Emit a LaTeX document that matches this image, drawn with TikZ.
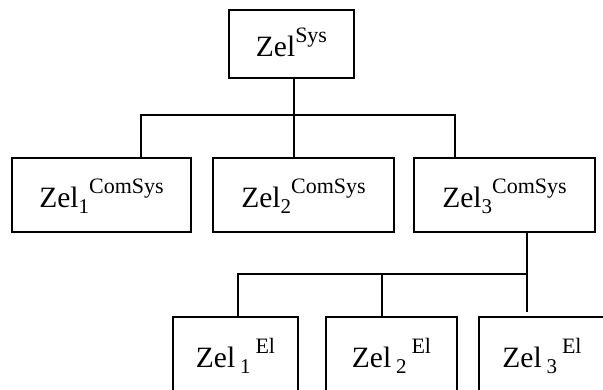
\documentclass[tikz,border=0pt]{standalone}
\usepackage{fontspec}
\setmainfont{Liberation Serif}
\usetikzlibrary{calc}

% raised / lowered indices in a smaller size
\newcommand\zsup[1]{\raisebox{14pt}{\fontsize{22}{22}\selectfont #1}}
\newcommand\zsub[1]{\raisebox{-6pt}{\fontsize{21}{21}\selectfont #1}}

\begin{document}
\begin{tikzpicture}[x=1pt,y=-1pt,
  goalbox/.style={draw, line width=1.6pt, rectangle, inner sep=0pt,
    minimum height=74pt, text height=26pt, text depth=0pt,
    font=\fontsize{29.5}{29.5}\selectfont},
  link/.style={line width=1.6pt}]
\useasboundingbox (0,0) rectangle (603,390);
\clip (0,0) rectangle (603,390);

% system level
\node[goalbox, minimum width=125pt, minimum height=68pt] (top) at (291.5,44) {Zel\zsup{Sys}};

% subsystem level
\node[goalbox, minimum width=179pt] (m1) at (101.5,195) {Zel\zsub{1}\zsup{ComSys}};
\node[goalbox, minimum width=181pt] (m2) at (303.5,195) {Zel\zsub{2}\zsup{ComSys}};
\node[goalbox, minimum width=181pt] (m3) at (504.5,195) {Zel\zsub{3}\zsup{ComSys}};

% element level
\node[goalbox, minimum width=125pt] (b1) at (235.5,354) {Zel\,\zsub{1}\,\zsup{El}};
\node[goalbox, minimum width=131pt] (b2) at (391.5,354) {Zel\,\zsub{2}\,\zsup{El}};
\node[goalbox, minimum width=126pt] (b3) at (542,354) {Zel\,\zsub{3}\,\zsup{El}};

% junction points of the connectors
\coordinate (j0) at (294,115);
\coordinate (jl) at (141,115);
\coordinate (jr) at (455,115);
\coordinate (k0) at (527,274);
\coordinate (kl) at (238,274);
\coordinate (km) at (382,274);

% first level of the tree
\draw[link] (top.south -| j0) -- (m2.north -| j0);
\draw[link] (m1.north -| jl) |- (jr) -- (m3.north -| jr);

% second level of the tree
\draw[link, shorten >=4pt] (m3.south -| k0) -- (b3.north -| k0);
\draw[link] (b1.north -| kl) |- (k0);
\draw[link] (km) -- (b2.north -| km);
\end{tikzpicture}
\end{document}
